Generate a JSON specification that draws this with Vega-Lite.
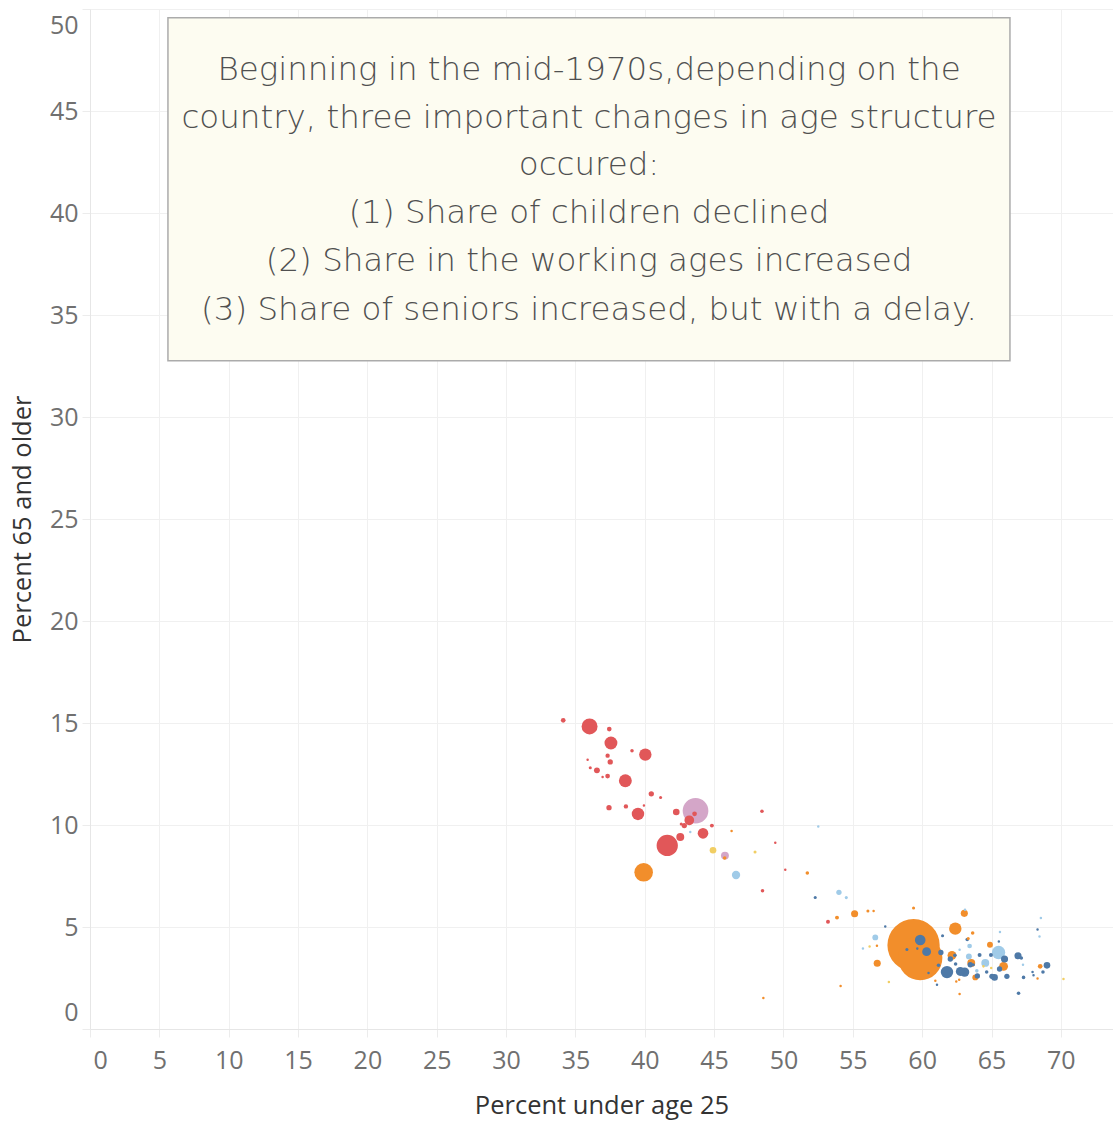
{
  "$schema": "https://vega.github.io/schema/vega-lite/v6.json",
  "width": 1023,
  "height": 1020,
  "autosize": {"type": "none"},
  "padding": {"left": 90, "top": 9, "right": 0, "bottom": 92},
  "background": "white",
  "config": {"view": {"stroke": null}, "font": "Open Sans"},
  "layer": [
    {
      "data": {"values": [
        {"r":"Europe","x":34.12,"y":15.13,"p":7},
        {"r":"Europe","x":36.02,"y":14.83,"p":81},
        {"r":"Europe","x":37.44,"y":14.70,"p":7},
        {"r":"Europe","x":37.56,"y":14.02,"p":53},
        {"r":"Europe","x":39.08,"y":13.64,"p":4},
        {"r":"Europe","x":40.04,"y":13.45,"p":49},
        {"r":"Europe","x":37.32,"y":13.40,"p":6},
        {"r":"Europe","x":37.51,"y":13.09,"p":9},
        {"r":"Europe","x":35.88,"y":13.20,"p":2},
        {"r":"Europe","x":36.07,"y":12.81,"p":3},
        {"r":"Europe","x":36.55,"y":12.68,"p":11},
        {"r":"Europe","x":36.96,"y":12.35,"p":2},
        {"r":"Europe","x":37.32,"y":12.40,"p":7},
        {"r":"Europe","x":38.60,"y":12.17,"p":53},
        {"r":"Europe","x":40.47,"y":11.53,"p":9},
        {"r":"Europe","x":41.14,"y":11.35,"p":3},
        {"r":"Europe","x":37.42,"y":10.85,"p":9},
        {"r":"Europe","x":38.64,"y":10.91,"p":6},
        {"r":"Europe","x":39.94,"y":10.96,"p":2},
        {"r":"Europe","x":39.51,"y":10.54,"p":49},
        {"r":"Europe","x":42.27,"y":10.64,"p":14},
        {"r":"Europe","x":43.59,"y":10.55,"p":7},
        {"r":"Europe","x":43.21,"y":10.23,"p":30},
        {"r":"Europe","x":42.85,"y":9.97,"p":9},
        {"r":"Europe","x":42.63,"y":10.05,"p":3},
        {"r":"Europe","x":44.84,"y":9.97,"p":5},
        {"r":"Europe","x":42.56,"y":9.41,"p":20},
        {"r":"Europe","x":44.20,"y":9.59,"p":36},
        {"r":"Europe","x":41.62,"y":9.00,"p":144},
        {"r":"Europe","x":48.45,"y":10.67,"p":4},
        {"r":"Europe","x":49.41,"y":9.13,"p":2},
        {"r":"Europe","x":48.49,"y":6.78,"p":4},
        {"r":"Europe","x":50.13,"y":7.81,"p":2},
        {"r":"Europe","x":53.21,"y":5.26,"p":5},
        {"r":"North America","x":43.66,"y":10.70,"p":210},
        {"r":"North America","x":45.78,"y":8.50,"p":20},
        {"r":"Asia","x":46.26,"y":9.70,"p":2},
        {"r":"Asia","x":45.76,"y":8.38,"p":4},
        {"r":"Asia","x":39.92,"y":7.68,"p":110},
        {"r":"Asia","x":51.72,"y":7.65,"p":4},
        {"r":"Asia","x":53.86,"y":5.46,"p":5},
        {"r":"Asia","x":55.13,"y":5.65,"p":16},
        {"r":"Asia","x":56.09,"y":5.78,"p":3},
        {"r":"Asia","x":56.50,"y":5.78,"p":2},
        {"r":"Asia","x":59.38,"y":5.93,"p":3},
        {"r":"Asia","x":56.74,"y":4.08,"p":2},
        {"r":"Asia","x":56.76,"y":3.22,"p":16},
        {"r":"Asia","x":54.12,"y":2.11,"p":2},
        {"r":"Asia","x":59.38,"y":4.11,"p":870},
        {"r":"Asia","x":59.86,"y":3.48,"p":625},
        {"r":"Asia","x":62.39,"y":4.92,"p":49},
        {"r":"Asia","x":63.04,"y":5.67,"p":16},
        {"r":"Asia","x":63.64,"y":4.71,"p":4},
        {"r":"Asia","x":63.32,"y":4.44,"p":3},
        {"r":"Asia","x":64.89,"y":4.13,"p":11},
        {"r":"Asia","x":65.87,"y":3.07,"p":25},
        {"r":"Asia","x":68.51,"y":3.07,"p":7},
        {"r":"Asia","x":68.32,"y":2.48,"p":2},
        {"r":"Asia","x":63.83,"y":2.53,"p":11},
        {"r":"Asia","x":63.54,"y":3.24,"p":20},
        {"r":"Asia","x":62.15,"y":3.61,"p":25},
        {"r":"Asia","x":62.46,"y":2.33,"p":2},
        {"r":"Asia","x":62.67,"y":2.42,"p":2},
        {"r":"Asia","x":60.95,"y":2.36,"p":2},
        {"r":"Asia","x":62.70,"y":1.72,"p":2},
        {"r":"Asia","x":48.55,"y":1.52,"p":2},
        {"r":"Oceania","x":44.92,"y":8.76,"p":14},
        {"r":"Oceania","x":47.95,"y":8.68,"p":3},
        {"r":"Oceania","x":56.21,"y":4.05,"p":2},
        {"r":"Oceania","x":57.60,"y":2.30,"p":2},
        {"r":"Oceania","x":70.19,"y":2.45,"p":2},
        {"r":"Oceania","x":64.42,"y":3.07,"p":2},
        {"r":"Oceania","x":64.98,"y":2.99,"p":2},
        {"r":"Latin America","x":43.28,"y":9.66,"p":2},
        {"r":"Latin America","x":46.58,"y":7.55,"p":22},
        {"r":"Latin America","x":52.51,"y":9.93,"p":2},
        {"r":"Latin America","x":54.00,"y":6.70,"p":9},
        {"r":"Latin America","x":54.53,"y":6.44,"p":3},
        {"r":"Latin America","x":56.62,"y":4.49,"p":11},
        {"r":"Latin America","x":55.73,"y":3.95,"p":2},
        {"r":"Latin America","x":65.61,"y":4.75,"p":2},
        {"r":"Latin America","x":63.42,"y":4.07,"p":7},
        {"r":"Latin America","x":62.70,"y":3.89,"p":2},
        {"r":"Latin America","x":65.51,"y":3.75,"p":56},
        {"r":"Latin America","x":68.56,"y":5.44,"p":2},
        {"r":"Latin America","x":68.46,"y":4.54,"p":2},
        {"r":"Latin America","x":64.55,"y":3.24,"p":20},
        {"r":"Latin America","x":63.37,"y":3.56,"p":11},
        {"r":"Latin America","x":67.27,"y":3.15,"p":2},
        {"r":"Latin America","x":63.94,"y":2.85,"p":4},
        {"r":"Latin America","x":63.09,"y":5.85,"p":2},
        {"r":"Africa","x":52.29,"y":6.45,"p":3},
        {"r":"Africa","x":57.34,"y":5.03,"p":2},
        {"r":"Africa","x":59.86,"y":4.36,"p":36},
        {"r":"Africa","x":60.32,"y":3.79,"p":25},
        {"r":"Africa","x":58.90,"y":3.90,"p":3},
        {"r":"Africa","x":59.65,"y":3.94,"p":2},
        {"r":"Africa","x":61.47,"y":4.57,"p":3},
        {"r":"Africa","x":65.53,"y":4.29,"p":2},
        {"r":"Africa","x":65.94,"y":3.43,"p":16},
        {"r":"Africa","x":66.91,"y":3.59,"p":16},
        {"r":"Africa","x":67.15,"y":3.48,"p":4},
        {"r":"Africa","x":68.32,"y":4.88,"p":2},
        {"r":"Africa","x":69.00,"y":3.12,"p":14},
        {"r":"Africa","x":68.71,"y":2.79,"p":4},
        {"r":"Africa","x":67.96,"y":2.79,"p":2},
        {"r":"Africa","x":68.03,"y":2.64,"p":2},
        {"r":"Africa","x":67.31,"y":2.53,"p":4},
        {"r":"Africa","x":66.95,"y":1.75,"p":4},
        {"r":"Africa","x":66.11,"y":2.58,"p":9},
        {"r":"Africa","x":65.22,"y":2.53,"p":14},
        {"r":"Africa","x":65.03,"y":2.58,"p":9},
        {"r":"Africa","x":65.58,"y":2.94,"p":9},
        {"r":"Africa","x":64.96,"y":3.63,"p":5},
        {"r":"Africa","x":64.14,"y":3.63,"p":5},
        {"r":"Africa","x":64.65,"y":2.79,"p":4},
        {"r":"Africa","x":63.98,"y":2.60,"p":9},
        {"r":"Africa","x":63.47,"y":3.15,"p":9},
        {"r":"Africa","x":63.06,"y":2.79,"p":28},
        {"r":"Africa","x":62.75,"y":2.82,"p":25},
        {"r":"Africa","x":61.79,"y":2.79,"p":49},
        {"r":"Africa","x":61.35,"y":3.75,"p":9},
        {"r":"Africa","x":62.03,"y":3.43,"p":9},
        {"r":"Africa","x":62.36,"y":3.61,"p":4},
        {"r":"Africa","x":62.41,"y":3.19,"p":4},
        {"r":"Africa","x":61.18,"y":3.12,"p":4},
        {"r":"Africa","x":60.46,"y":2.74,"p":2},
        {"r":"Africa","x":61.07,"y":2.17,"p":2},
        {"r":"Africa","x":63.69,"y":3.15,"p":3},
        {"r":"Africa","x":63.25,"y":4.39,"p":4}
      ]},
      "mark": {"type": "circle", "opacity": 1},
      "encoding": {
        "x": {"field": "x", "type": "quantitative",
          "scale": {"domain": [0, 73.76], "nice": false, "zero": false},
          "axis": {"title": "Percent under age 25", "values": [0,5,10,15,20,25,30,35,40,45,50,55,60,65,70],
            "grid": true, "gridColor": "#f0f0f0", "domainColor": "#e6e6e6", "tickColor": "#ececec", "tickSize": 8,
            "labelFontSize": 25, "labelColor": "#707070", "labelPadding": 11, "labelFlush": true, "labelFlushOffset": -3,
            "titleFontSize": 25.5, "titleColor": "#333333", "titleFontWeight": "normal", "titlePadding": 20}},
        "y": {"field": "y", "type": "quantitative",
          "scale": {"domain": [0, 50], "nice": false, "zero": false},
          "axis": {"title": "Percent 65 and older", "values": [0,5,10,15,20,25,30,35,40,45,50],
            "grid": true, "gridColor": "#f0f0f0", "domainColor": "#e6e6e6", "tickColor": "#ececec", "tickSize": 8,
            "labelFontSize": 25, "labelColor": "#707070", "labelPadding": 4, "labelFlush": true, "labelFlushOffset": -4,
            "titleFontSize": 25.5, "titleColor": "#333333", "titleFontWeight": "normal", "titlePadding": 14}},
        "size": {"field": "p", "type": "quantitative", "scale": {"type": "linear", "domain": [0, 1000], "range": [0, 3141.6], "zero": true}, "legend": null},
        "color": {"field": "r", "type": "nominal",
          "scale": {"domain": ["Europe", "Asia", "Africa", "Latin America", "North America", "Oceania"],
                    "range": ["#e15759", "#f28e2b", "#4e79a7", "#a0cbe8", "#d4a6c8", "#f1ce63"]}, "legend": null},
        "order": {"field": "p", "type": "quantitative", "sort": "descending"}
      }
    },
    {
      "data": {"values": [{"x": 5.62, "x2": 66.33, "y": 32.76, "y2": 49.57}]},
      "mark": {"type": "rect", "fill": "#fdfcf1", "stroke": "#ababab", "strokeWidth": 1.5},
      "encoding": {
        "x": {"field": "x", "type": "quantitative", "scale": {"domain": [0, 73.76], "nice": false, "zero": false}, "title": "Percent under age 25"},
        "x2": {"field": "x2"},
        "y": {"field": "y", "type": "quantitative", "scale": {"domain": [0, 50], "nice": false, "zero": false}, "title": "Percent 65 and older"},
        "y2": {"field": "y2"}
      }
    },
    {
      "data": {"values": [
        {"t": "Beginning in the mid-1970s,depending on the", "x": 35.98, "y": 46.50},
        {"t": "country, three important changes in age structure", "x": 35.98, "y": 44.17},
        {"t": "occured:", "x": 35.98, "y": 41.84},
        {"t": "(1) Share of children declined", "x": 35.98, "y": 39.51},
        {"t": "(2) Share in the working ages increased", "x": 35.98, "y": 37.14},
        {"t": "(3) Share of seniors increased, but with a delay.", "x": 35.98, "y": 34.77}
      ]},
      "mark": {"type": "text", "align": "center", "baseline": "alphabetic", "fontSize": 32.5, "font": "DejaVu Sans", "fontWeight": 300, "color": "#505050"},
      "encoding": {
        "x": {"field": "x", "type": "quantitative", "scale": {"domain": [0, 73.76], "nice": false, "zero": false}, "title": "Percent under age 25"},
        "y": {"field": "y", "type": "quantitative", "scale": {"domain": [0, 50], "nice": false, "zero": false}, "title": "Percent 65 and older"},
        "text": {"field": "t", "type": "nominal"}
      }
    }
  ]
}
